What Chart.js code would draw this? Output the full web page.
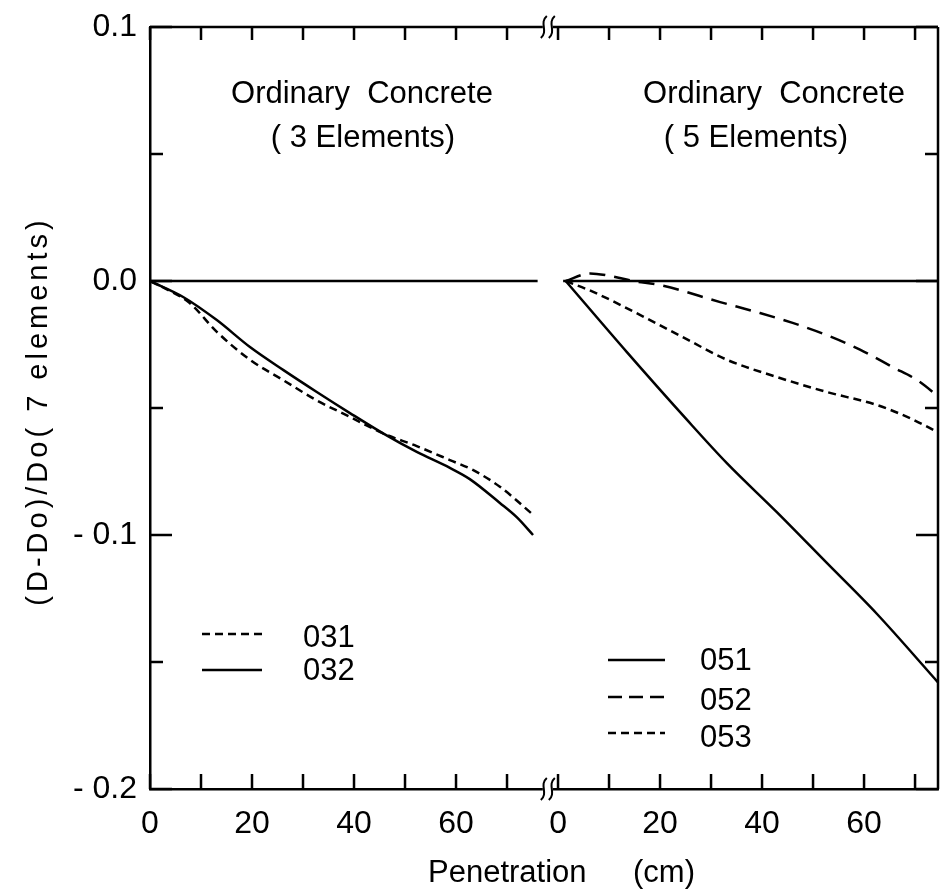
<!DOCTYPE html>
<html>
<head>
<meta charset="utf-8">
<script src="https://cdn.jsdelivr.net/npm/chart.js@4.4.1/dist/chart.umd.min.js"></script>
<style>
    body { margin: 0; background: #fff; }
</style>
</head>
<body>
<canvas id="graficoPenetracao" width="941" height="896"></canvas>
<script>
// painel esquerdo: 3 elementos
const pen031 = [0, 4, 7.8, 13.1, 19.6, 26.1, 32.7, 39.2, 45.7, 52.3, 58.8, 63.3, 68.6, 75.1];
const d031 = [0, -0.004, -0.0087, -0.020, -0.031, -0.039, -0.047, -0.0535, -0.060, -0.065, -0.0705, -0.0744, -0.081, -0.092];
const pen032 = [0, 6.5, 13.1, 19.6, 26.1, 32.7, 39.2, 45.7, 52.3, 58.8, 62.7, 68.6, 71.9, 75.1];
const d032 = [0, -0.0063, -0.0154, -0.026, -0.035, -0.0437, -0.052, -0.060, -0.0673, -0.0736, -0.078, -0.0874, -0.093, -0.100];

// painel direito: 5 elementos
const pen051 = [1.5, 13.5, 25.3, 33.1, 42.9, 52.7, 62.5, 74.5];
const d051 = [0, -0.028, -0.0547, -0.0717, -0.091, -0.111, -0.131, -0.158];
const pen052 = [1.5, 6.3, 10.2, 14.7, 20, 31.8, 39.6, 46, 52.7, 59.2, 65.7, 70.4, 74.9];
const d052 = [0, 0.003, 0.002, 0, -0.0016, -0.0083, -0.0126, -0.0165, -0.0213, -0.027, -0.034, -0.039, -0.046];
const pen053 = [1.5, 6.9, 16.7, 25.3, 33.1, 42.9, 52.7, 62.5, 69, 74.9];
const d053 = [0, -0.0043, -0.014, -0.023, -0.031, -0.0378, -0.0437, -0.0488, -0.054, -0.060];

// linhas de referencia em zero
const zeroEsq = [0, 76];
const zeroDir = [1, 74.5];

const ticksPen = [0, 10, 20, 30, 40, 50, 60, 70];
const labelsPen = [0, 20, 40, 60];
const ticksD = [-0.2, -0.15, -0.1, -0.05, 0, 0.05, 0.1];
const labelsD = [-0.2, -0.1, 0, 0.1];

const OFFSET = 80;   // onde comeca o painel direito no eixo x
const QUEBRA = 78;   // simbolo de quebra do eixo
const fonte = '"Liberation Sans", Arial, sans-serif';

function pontos(xs, ys, desloc) {
    let lista = [];
    for (let i = 0; i < xs.length; i++) {
        lista.push({ x: xs[i] + desloc, y: ys[i] });
    }
    return lista;
}

function serie(xs, ys, desloc, tracejado) {
    return {
        data: pontos(xs, ys, desloc),
        borderColor: '#000',
        borderWidth: 2.5,
        borderDash: tracejado,
        pointRadius: 0,
        cubicInterpolationMode: 'monotone',
        fill: false
    };
}

const todosTicksX = ticksPen.concat(ticksPen.map(v => v + OFFSET));

const extras = {
    id: 'extras',
    afterDraw(chart) {
        const ctx = chart.ctx;
        const a = chart.chartArea;
        const sx = chart.scales.x;
        const sy = chart.scales.y;

        function linha(x1, y1, x2, y2, dash) {
            ctx.setLineDash(dash || []);
            ctx.beginPath();
            ctx.moveTo(x1, y1);
            ctx.lineTo(x2, y2);
            ctx.stroke();
        }

        ctx.save();
        ctx.strokeStyle = '#000';
        ctx.fillStyle = '#000';
        ctx.lineWidth = 2.5;

        // moldura de cima e da direita
        linha(a.left, a.top, a.right, a.top);
        linha(a.right, a.top, a.right, a.bottom);

        // ticks para dentro
        sx.ticks.forEach(t => {
            const px = sx.getPixelForValue(t.value);
            linha(px, a.bottom, px, a.bottom - 15);
            linha(px, a.top, px, a.top + 13);
        });
        sy.ticks.forEach(t => {
            const py = sy.getPixelForValue(t.value);
            const maior = labelsD.some(v => Math.abs(v - t.value) < 1e-9);
            const tam = maior ? 22 : 13;
            linha(a.left, py, a.left + tam, py);
            linha(a.right, py, a.right - tam, py);
        });

        // quebra do eixo x
        const qx = sx.getPixelForValue(QUEBRA);
        [a.top, a.bottom].forEach(cy => {
            ctx.fillStyle = '#fff';
            ctx.fillRect(qx - 5, cy - 3, 10, 6);
            ctx.fillStyle = '#000';
            ctx.lineWidth = 2;
            [-4, 4].forEach(d => {
                const cx = qx + d;
                ctx.setLineDash([]);
                ctx.beginPath();
                ctx.moveTo(cx - 3, cy + 11);
                ctx.bezierCurveTo(cx + 5, cy + 4, cx - 5, cy - 4, cx + 3, cy - 11);
                ctx.stroke();
            });
        });

        // titulos dos paineis
        ctx.font = '31px ' + fonte;
        ctx.textBaseline = 'alphabetic';
        ctx.textAlign = 'center';
        ctx.fillText('Ordinary  Concrete', 362, 103);
        ctx.fillText('( 3 Elements)', 363, 147);
        ctx.fillText('Ordinary  Concrete', 774, 103);
        ctx.fillText('( 5 Elements)', 756, 147);

        // legendas
        ctx.textAlign = 'left';
        ctx.lineWidth = 2.5;
        const legendas = [
            ['031', 202, 262, 634, 303, 647, [8, 5]],
            ['032', 202, 262, 670, 303, 680, []],
            ['051', 608, 665, 660, 700, 670, []],
            ['052', 608, 665, 697, 700, 710, [14, 7]],
            ['053', 608, 665, 733, 700, 747, [8, 5]]
        ];
        legendas.forEach(l => {
            linha(l[1], l[3], l[2], l[3], l[6]);
            ctx.fillText(l[0], l[4], l[5]);
        });
        ctx.setLineDash([]);

        // titulos dos eixos
        ctx.fillText('Penetration', 428, 882);
        ctx.fillText('(cm)', 633, 882);

        ctx.translate(47, 411);
        ctx.rotate(-Math.PI / 2);
        ctx.textAlign = 'center';
        ctx.font = '29px ' + fonte;
        ctx.letterSpacing = '4px';
        ctx.fillText('(D-Do)/Do( 7 elements)', 0, 0);
        ctx.restore();
    }
};

const config = {
    type: 'line',
    data: {
        datasets: [
            serie(zeroEsq, [0, 0], 0, []),
            serie(zeroDir, [0, 0], OFFSET, []),
            serie(pen031, d031, 0, [8, 5]),
            serie(pen032, d032, 0, []),
            serie(pen051, d051, OFFSET, []),
            serie(pen052, d052, OFFSET, [16, 9]),
            serie(pen053, d053, OFFSET, [8, 5])
        ]
    },
    options: {
        responsive: false,
        animation: false,
        layout: { padding: { left: 0, top: 27, right: 3, bottom: 0 } },
        plugins: {
            legend: { display: false },
            tooltip: { enabled: false }
        },
        scales: {
            x: {
                type: 'linear',
                min: 0,
                max: 154.5,
                afterBuildTicks: (scale) => {
                    scale.ticks = todosTicksX.map(v => ({ value: v }));
                },
                afterFit: (scale) => { scale.height = 107; },
                grid: { display: false },
                border: { display: true, color: '#000', width: 2.5 },
                ticks: {
                    autoSkip: false,
                    maxRotation: 0,
                    padding: 8,
                    color: '#000',
                    font: { family: fonte, size: 32 },
                    callback: function (value) {
                        const v = value >= OFFSET ? value - OFFSET : value;
                        return labelsPen.includes(Math.round(v)) ? String(Math.round(v)) : '';
                    }
                }
            },
            y: {
                min: -0.2,
                max: 0.1,
                afterBuildTicks: (scale) => {
                    scale.ticks = ticksD.map(v => ({ value: v }));
                },
                afterFit: (scale) => { scale.width = 150; },
                grid: { display: false },
                border: { display: true, color: '#000', width: 2.5 },
                ticks: {
                    autoSkip: false,
                    padding: 5,
                    color: '#000',
                    font: { family: fonte, size: 32 },
                    callback: function (value) {
                        const maior = labelsD.some(v => Math.abs(v - value) < 1e-9);
                        if (!maior) return '';
                        return value < 0 ? '- ' + Math.abs(value).toFixed(1) : value.toFixed(1);
                    }
                }
            }
        }
    },
    plugins: [extras]
};

let myChart = new Chart(
    document.getElementById('graficoPenetracao'),
    config
);
</script>
</body>
</html>
